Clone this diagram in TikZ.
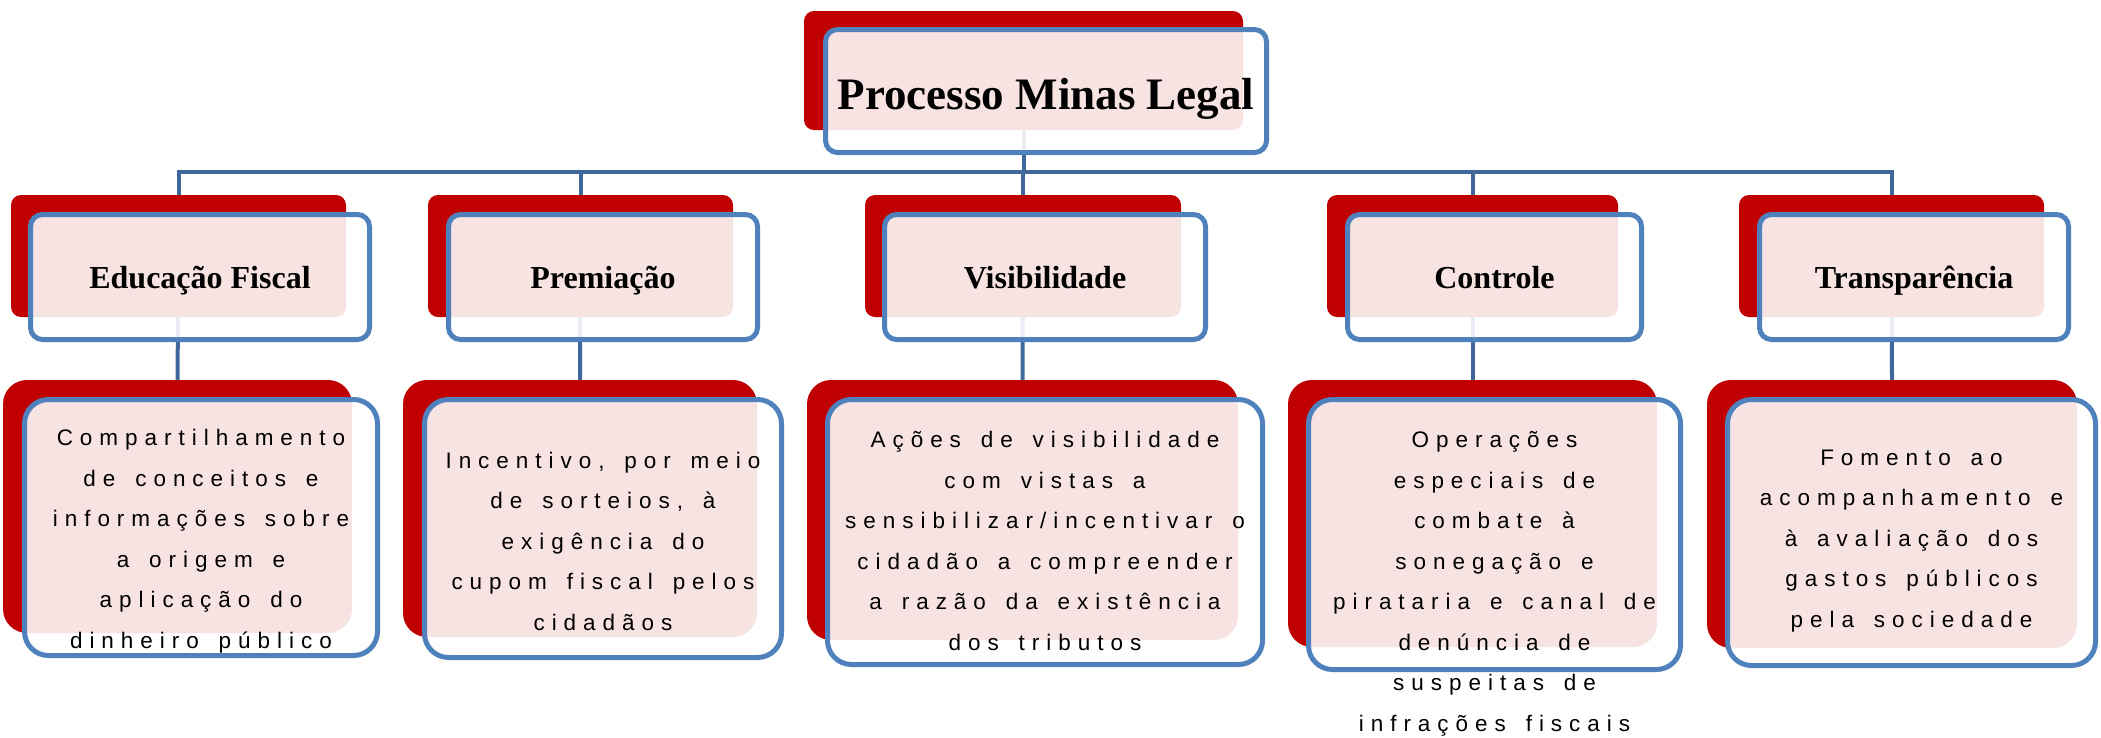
\documentclass[tikz,border=0pt]{standalone}
\usepackage{fontspec}
\usetikzlibrary{positioning,backgrounds}
\newfontfamily\headfont{Liberation Serif}
\newfontfamily\spacedfont[LetterSpace=31,WordSpace=1.5]{Liberation Sans}
\definecolor{shadowred}{HTML}{C00000}
\definecolor{frameblue}{HTML}{4F81BD}
\definecolor{linkblue}{HTML}{41689C}
\tikzset{shadow box/.style={draw=none,fill=shadowred,rounded corners=10pt,inner sep=0pt},
         frame box/.style={draw=frameblue,line width=5pt,fill=white,fill opacity=0.89,
                           text opacity=1,rounded corners=12pt,inner sep=0pt},
         big box/.style={rounded corners=24pt},
         top text/.style={font={\headfont\bfseries\fontsize{45}{50}\selectfont},text height=36.8pt,text depth=0pt},
         head text/.style={font={\headfont\bfseries\fontsize{32}{36}\selectfont},text height=22pt,text depth=0pt},
         body text/.style={font={\spacedfont\fontsize{22.5}{40.5}\selectfont},align=center,inner sep=0pt},
         link/.style={draw=linkblue,line width=4pt}
         }

\begin{document}
\begin{tikzpicture}[x=1pt,y=-1pt]
\useasboundingbox (0,0) rectangle (2101,737);
\coordinate (bus) at (0,172);
\coordinate (txtmid) at (0,541);
\coordinate (txtlow) at (0,584);

% top
\node[shadow box, minimum width=439pt, minimum height=119pt] (top) at (1023.5,70.5) {};
\node[frame box, top text, minimum width=441pt, minimum height=123pt] (top-f) at (1046,91) {Processo Minas Legal};

% second row
\node[shadow box, minimum width=335pt, minimum height=122pt] (edu) at (178.5,256) {};
\node[frame box, head text, minimum width=339pt, minimum height=125pt] (edu-f) at (200,277) {Educação Fiscal};
\node[shadow box, minimum width=305pt, minimum height=122pt] (prem) at (580.5,256) {};
\node[frame box, head text, minimum width=309pt, minimum height=125pt] (prem-f) at (603,277) {Premiação};
\node[shadow box, minimum width=316pt, minimum height=122pt] (vis) at (1023,256) {};
\node[frame box, head text, minimum width=321pt, minimum height=125pt] (vis-f) at (1045,277) {Visibilidade};
\node[shadow box, minimum width=291pt, minimum height=122pt] (ctrl) at (1472.5,256) {};
\node[frame box, head text, minimum width=294pt, minimum height=125pt] (ctrl-f) at (1494.5,277) {Controle};
\node[shadow box, minimum width=305pt, minimum height=122pt] (transp) at (1891.5,256) {};
\node[frame box, head text, minimum width=309pt, minimum height=125pt] (transp-f) at (1914,277) {Transparência};

% third row
\node[shadow box, big box, minimum width=349pt, minimum height=253pt] (edu-sub) at (177.5,506.5) {};
\node[frame box, big box, minimum width=353pt, minimum height=256pt] (edu-subf) at (201,527.5) {};
\node[body text] (edu-txt) at (edu-subf |- txtmid)
  {Compartilhamento\\de conceitos e\\informações sobre\\a origem e\\aplicação do\\dinheiro público};

\node[shadow box, big box, minimum width=354pt, minimum height=257pt] (prem-sub) at (580,508.5) {};
\node[frame box, big box, minimum width=357pt, minimum height=258pt] (prem-subf) at (603,528.5) {};
\node[body text] (prem-txt) at (prem-subf |- txtmid)
  {Incentivo, por meio\\de sorteios, à\\exigência do\\cupom fiscal pelos\\cidadãos};

\node[shadow box, big box, minimum width=431pt, minimum height=260pt] (vis-sub) at (1022.5,510) {};
\node[frame box, big box, minimum width=435pt, minimum height=265pt] (vis-subf) at (1045,532) {};
\node[body text] (vis-txt) at (vis-subf |- txtmid)
  {Ações de visibilidade\\com vistas a\\sensibilizar/incentivar o\\cidadão a compreender\\a razão da existência\\dos tributos};

\node[shadow box, big box, minimum width=369pt, minimum height=267pt] (ctrl-sub) at (1472.5,513.5) {};
\node[frame box, big box, minimum width=372pt, minimum height=270pt] (ctrl-subf) at (1494.5,534.5) {};
\node[body text] (ctrl-txt) at (ctrl-subf |- txtlow)
  {Operações\\especiais de\\combate à\\sonegação e\\pirataria e canal de\\denúncia de\\suspeitas de\\infrações fiscais};

\node[shadow box, big box, minimum width=370pt, minimum height=268pt] (transp-sub) at (1892,514) {};
\node[frame box, big box, minimum width=368pt, minimum height=266pt] (transp-subf) at (1911.5,532.5) {};
\node[body text] (transp-txt) at (transp-subf |- txtmid)
  {Fomento ao\\acompanhamento e\\à avaliação dos\\gastos públicos\\pela sociedade};

% connectors
\begin{scope}[on background layer]
\foreach \n in {edu,prem,vis,ctrl,transp}
  \draw[link] (top.center) |- (\n.north |- bus) -- (\n.north);
\foreach \n in {edu,prem,vis,ctrl,transp}
  \draw[link] (\n.center) -- (\n-sub.north);
\end{scope}
\end{tikzpicture}
\end{document}
